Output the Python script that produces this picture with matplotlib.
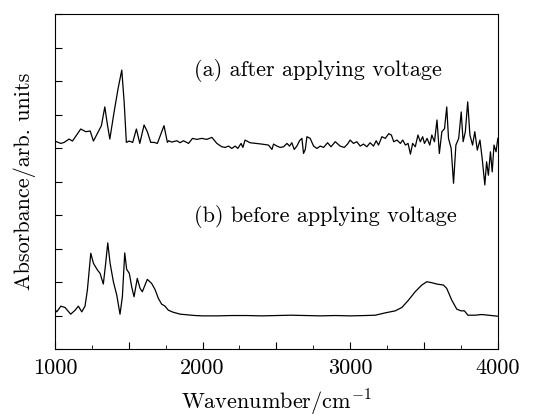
#!/usr/bin/env python3
"""IR absorbance spectra before/after applying voltage"""
import matplotlib
matplotlib.use("Agg")
import matplotlib.pyplot as plt
from matplotlib.ticker import MultipleLocator, FuncFormatter

plt.rcParams['font.family'] = 'cmr10'
plt.rcParams['mathtext.fontset'] = 'cm'
plt.rcParams['axes.formatter.use_mathtext'] = True

# (a) after applying voltage
wn_a = [1000, 1040, 1063, 1096, 1119, 1175, 1209, 1239, 1261, 1288, 1315, 1338,
        1356, 1372, 1401, 1428, 1453, 1469, 1484, 1503, 1527, 1552, 1575, 1604,
        1626, 1649, 1672, 1694, 1739, 1762, 1770, 1792, 1826, 1848, 1871, 1905,
        1932, 1961, 1995, 2029, 2063, 2097, 2130, 2153, 2176, 2198, 2221, 2239,
        2261, 2273, 2288, 2322, 2401, 2447, 2470, 2481, 2504, 2526, 2549, 2572,
        2589, 2605, 2621, 2639, 2657, 2673, 2684, 2696, 2707, 2729, 2752, 2775,
        2797, 2820, 2847, 2870, 2899, 2932, 2960, 2982, 3000, 3022, 3045, 3068,
        3090, 3113, 3135, 3158, 3176, 3192, 3215, 3238, 3261, 3279, 3295, 3317,
        3340, 3356, 3374, 3392, 3408, 3423, 3441, 3459, 3475, 3491, 3503, 3521,
        3539, 3553, 3571, 3588, 3604, 3621, 3639, 3654, 3666, 3684, 3700, 3716,
        3735, 3752, 3765, 3780, 3796, 3811, 3829, 3844, 3861, 3879, 3894, 3912,
        3924, 3936, 3950, 3962, 3974, 3988, 4000]
abs_a = [6.21, 6.14, 6.17, 6.27, 6.21, 6.57, 6.49, 6.51, 6.21, 6.44, 6.67, 7.23,
         6.69, 6.27, 7.08, 7.78, 8.33, 7.38, 6.17, 6.21, 6.17, 6.57, 6.14, 6.69,
         6.49, 6.17, 6.17, 6.14, 6.67, 6.17, 6.22, 6.18, 6.22, 6.16, 6.22, 6.14,
         6.29, 6.26, 6.29, 6.26, 6.32, 6.14, 6.04, 6.02, 6.06, 5.99, 6.06, 5.99,
         6.14, 6.02, 6.24, 6.16, 6.12, 6.09, 5.96, 6.12, 6.06, 6.02, 6.04, 6.14,
         6.06, 6.16, 5.96, 6.06, 6.22, 6.29, 5.84, 5.96, 6.34, 6.29, 6.06, 5.99,
         6.06, 6.02, 6.16, 6.04, 6.19, 6.06, 6.02, 6.12, 6.24, 6.14, 6.19, 6.06,
         6.12, 6.04, 6.16, 6.06, 6.22, 6.09, 6.34, 6.29, 6.43, 6.39, 6.19, 6.24,
         6.14, 6.24, 6.09, 6.14, 5.82, 6.14, 6.04, 6.39, 6.19, 6.34, 6.14, 6.29,
         6.09, 6.39, 6.19, 6.84, 5.84, 6.49, 6.58, 7.23, 6.29, 5.99, 4.95, 6.09,
         6.29, 7.08, 6.19, 6.49, 7.38, 6.39, 6.09, 6.49, 5.94, 6.24, 5.69, 4.90,
         5.59, 5.19, 5.89, 5.29, 6.09, 5.89, 6.29]

# (b) before applying voltage
wn_b = [1000, 1013, 1040, 1069, 1107, 1137, 1159, 1182, 1204, 1220, 1243, 1261,
        1288, 1306, 1328, 1344, 1358, 1374, 1396, 1419, 1441, 1457, 1473, 1486,
        1504, 1520, 1536, 1558, 1577, 1592, 1626, 1655, 1678, 1701, 1723, 1746,
        1768, 1800, 1850, 1900, 1950, 2000, 2100, 2200, 2300, 2400, 2500, 2600,
        2700, 2800, 2900, 3000, 3100, 3170, 3238, 3305, 3350, 3395, 3440, 3485,
        3519, 3553, 3587, 3632, 3654, 3688, 3722, 3751, 3774, 3797, 3846, 3891,
        3936, 4000]
abs_b = [1.18, 1.11, 1.28, 1.24, 1.04, 1.16, 1.28, 1.11, 1.28, 1.76, 2.86, 2.56,
         2.36, 2.26, 1.94, 2.56, 3.17, 2.56, 2.01, 1.61, 1.04, 1.56, 2.87, 2.38,
         2.26, 1.86, 1.56, 2.11, 1.81, 1.71, 2.08, 1.96, 1.78, 1.51, 1.34, 1.28,
         1.16, 1.10, 1.04, 1.02, 1.00, 0.99, 0.99, 1.00, 1.00, 0.99, 1.00, 1.01,
         1.00, 0.99, 1.00, 0.99, 1.00, 1.01, 1.08, 1.14, 1.24, 1.46, 1.71, 1.91,
         2.01, 1.98, 1.94, 1.91, 1.81, 1.46, 1.19, 1.14, 1.14, 1.01, 1.01, 1.03,
         1.01, 0.98]

fig = plt.figure(figsize=(5.33, 4.16), dpi=100)
ax = fig.add_axes([0.103, 0.161, 0.831, 0.805])

ax.plot(wn_a, abs_a, color='black', lw=0.9)
ax.plot(wn_b, abs_b, color='black', lw=0.9)

ax.text(1940, 8.31, '(a) after applying voltage', fontsize=16, va='center', ha='left')
ax.text(1940, 3.95, '(b) before applying voltage', fontsize=16, va='center', ha='left')

ax.set_xlim(1000, 4000)
ax.set_ylim(0, 10)
ax.xaxis.set_major_locator(MultipleLocator(500))
ax.xaxis.set_minor_locator(MultipleLocator(250))
ax.xaxis.set_major_formatter(FuncFormatter(lambda v, p: '%d' % v if v % 1000 == 0 else ''))
ax.yaxis.set_major_locator(MultipleLocator(1))
ax.yaxis.set_major_formatter(FuncFormatter(lambda v, p: ''))
ax.tick_params(axis='x', which='major', direction='in', length=5, labelsize=16, pad=7)
ax.tick_params(axis='x', which='minor', direction='in', length=3)
ax.tick_params(axis='y', which='major', direction='in', length=5)

ax.set_xlabel('Wavenumber/cm$^{-1}$', fontsize=16, labelpad=7)
ax.set_ylabel('Absorbance/arb. units', fontsize=16, labelpad=10)

fig.savefig("out.png", dpi=100)
